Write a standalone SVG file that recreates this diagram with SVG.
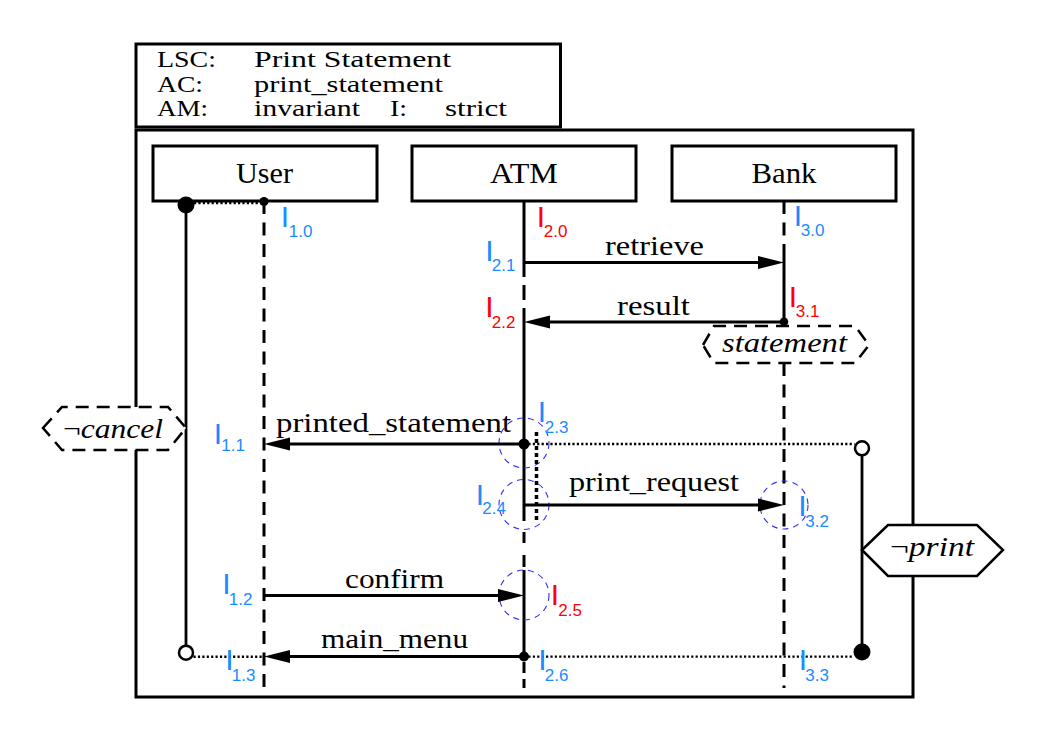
<svg xmlns="http://www.w3.org/2000/svg" width="1045" height="745" viewBox="0 0 1045 745">
<style>
.frame{fill:none;stroke:#000;stroke-width:3}
.box{fill:#fff;stroke:#000;stroke-width:3}
.life{fill:none;stroke:#000;stroke-width:3}
.dsh{stroke-dasharray:13 8.5}
.msg{fill:none;stroke:#000;stroke-width:3;marker-end:url(#arr)}
.dot{fill:none;stroke:#000;stroke-width:2.4;stroke-dasharray:2.2 2.2}
.vdot{fill:none;stroke:#000;stroke-width:3.5;stroke-dasharray:4 3}
.cor{fill:none;stroke:#3030ff;stroke-width:1.1;stroke-dasharray:6 5}
.hexd{fill:#fff;stroke:#000;stroke-width:2.5;stroke-dasharray:13 8}
.hex{fill:#fff;stroke:#000;stroke-width:2.5}
.cond{fill:none;stroke:#000;stroke-width:2.8}
.t{font-family:"Liberation Serif","Times New Roman",serif;fill:#000}
.hd{font-size:23px}
.nm{font-size:30px}
.ml{font-size:27px}
.it{font-size:27px;font-style:italic}
.up{font-style:normal}
.lb{font-family:"Liberation Sans",Arial,sans-serif;font-size:30px}
.sb{font-size:17px}
.blue{fill:#1a8cff}
.red{fill:#ff0000}
</style>
<defs>
<marker id="arr" markerUnits="userSpaceOnUse" markerWidth="26" markerHeight="13" refX="16" refY="6.5" orient="auto" overflow="visible">
<path d="M0,0 L26,6.5 L0,13 z" fill="#000"/>
</marker>
</defs>
<rect width="1045" height="745" fill="#fff"/>

<g id="header">
<rect class="frame" x="136" y="44" width="424.5" height="83"/>
<text class="t hd" x="157" y="67" textLength="59" lengthAdjust="spacingAndGlyphs">LSC:</text>
<text class="t hd" x="254" y="67" textLength="197" lengthAdjust="spacingAndGlyphs">Print Statement</text>
<text class="t hd" x="157" y="92" textLength="46" lengthAdjust="spacingAndGlyphs">AC:</text>
<text class="t hd" x="254" y="92" textLength="189" lengthAdjust="spacingAndGlyphs">print_statement</text>
<text class="t hd" x="157" y="116" textLength="51" lengthAdjust="spacingAndGlyphs">AM:</text>
<text class="t hd" x="254" y="116" textLength="106" lengthAdjust="spacingAndGlyphs">invariant</text>
<text class="t hd" x="390" y="116" textLength="17" lengthAdjust="spacingAndGlyphs">I:</text>
<text class="t hd" x="445" y="116" textLength="62" lengthAdjust="spacingAndGlyphs">strict</text>
</g>

<g id="frame">
<rect class="frame" x="136" y="130" width="777" height="567"/>
</g>

<g id="inst-user">
<rect class="box" x="153" y="146" width="224" height="55"/>
<text class="t nm" x="236" y="183" textLength="57" lengthAdjust="spacingAndGlyphs">User</text>
<path class="life dsh" d="M264,201 V688"/>
</g>
<g id="inst-atm">
<rect class="box" x="412" y="146" width="224" height="55"/>
<text class="t nm" x="490" y="183" textLength="68" lengthAdjust="spacingAndGlyphs">ATM</text>
<path class="life" d="M524,201 V277 M524,285 V300 M524,308 V521 M524,532 V543 M524,555 V567 M524,570 V657 M524,662 V673 M524,679 V688"/>
</g>
<g id="inst-bank">
<rect class="box" x="672" y="146" width="224" height="55"/>
<text class="t nm" x="751.5" y="183" textLength="65" lengthAdjust="spacingAndGlyphs">Bank</text>
<path class="life dsh" d="M784,201 V244"/>
<path class="life" d="M784,244 V322"/>
<path class="life dsh" d="M784,363 V688"/>
</g>

<g id="coregions">
<circle class="cor" cx="524" cy="443" r="25"/>
<circle class="cor" cx="524" cy="504.5" r="25"/>
<circle class="cor" cx="784" cy="505" r="24"/>
<circle class="cor" cx="524" cy="595" r="25"/>
<path class="vdot" d="M536.5,432 V521"/>
</g>

<g id="subchart-cancel">
<path class="dot" d="M194,203 H261"/>
<path class="cond" d="M186,205 V645.5"/>
<path class="dot" d="M193.5,656.7 H264"/>
<circle cx="186" cy="205" r="8.5" fill="#000"/>
<circle cx="264" cy="201.5" r="4.5" fill="#000"/>
<circle cx="186" cy="652.7" r="7" fill="#fff" stroke="#000" stroke-width="2.5"/>
<polygon class="hexd" points="43,428 62,407 168,407 186,428 168,450 62,450"/>
<text class="t it" x="63" y="438" textLength="100" lengthAdjust="spacingAndGlyphs"><tspan class="up">¬</tspan>cancel</text>
</g>

<g id="subchart-print">
<path class="dot" d="M524,444 H854.5"/>
<path class="dot" d="M524,656.6 H854"/>
<path class="cond" d="M862,455 V652"/>
<circle cx="862" cy="448.3" r="7" fill="#fff" stroke="#000" stroke-width="2.5"/>
<circle cx="862" cy="652" r="8.5" fill="#000"/>
<polygon class="hex" points="862,550 888,525 977,525 1003,550 977,576 888,576"/>
<text class="t it" x="890" y="556" textLength="84" lengthAdjust="spacingAndGlyphs"><tspan class="up">¬</tspan>print</text>
</g>

<g id="cond-statement">
<polygon class="hexd" points="703,345 714,326 855,326 869,345 855,363 714,363"/>
<text class="t it" x="722" y="352" textLength="125" lengthAdjust="spacingAndGlyphs">statement</text>
</g>

<g id="connectors">
<path class="msg" d="M525,262.5 H774"/>
<path class="msg" d="M783,322 H534"/>
<path class="msg" d="M523,444 H274"/>
<path class="msg" d="M525,505 H774"/>
<path class="msg" d="M265,595.5 H514"/>
<path class="msg" d="M523,656.6 H274"/>
<circle cx="784" cy="321.7" r="4.3" fill="#000"/>
<circle cx="524" cy="444" r="5.5" fill="#000"/>
<circle cx="524" cy="656.5" r="5" fill="#000"/>
<text class="t ml" x="605" y="255" textLength="99" lengthAdjust="spacingAndGlyphs">retrieve</text>
<text class="t ml" x="617" y="315" textLength="73" lengthAdjust="spacingAndGlyphs">result</text>
<text class="t ml" x="276" y="432" textLength="235" lengthAdjust="spacingAndGlyphs">printed_statement</text>
<text class="t ml" x="569" y="491" textLength="170" lengthAdjust="spacingAndGlyphs">print_request</text>
<text class="t ml" x="345" y="588" textLength="99" lengthAdjust="spacingAndGlyphs">confirm</text>
<text class="t ml" x="321" y="648" textLength="147" lengthAdjust="spacingAndGlyphs">main_menu</text>
</g>

<g id="locations">
<text class="lb blue" x="280.7" y="227">I<tspan class="sb" x="288.8" y="236.5">1.0</tspan></text>
<text class="lb red" x="536.7" y="227">I<tspan class="sb" x="543.8" y="236.5">2.0</tspan></text>
<text class="lb blue" x="793.7" y="226">I<tspan class="sb" x="800.8" y="236">3.0</tspan></text>
<text class="lb blue" x="485.2" y="260.5">I<tspan class="sb" x="491.8" y="271">2.1</tspan></text>
<text class="lb red" x="485.2" y="317">I<tspan class="sb" x="491.8" y="328">2.2</tspan></text>
<text class="lb red" x="788.7" y="306.5">I<tspan class="sb" x="795.8" y="316.5">3.1</tspan></text>
<text class="lb blue" x="537.7" y="422">I<tspan class="sb" x="544.8" y="433">2.3</tspan></text>
<text class="lb blue" x="213.7" y="443.5">I<tspan class="sb" x="221.3" y="451">1.1</tspan></text>
<text class="lb blue" x="475.7" y="505">I<tspan class="sb" x="482.3" y="514">2.4</tspan></text>
<text class="lb blue" x="798.2" y="516">I<tspan class="sb" x="805.3" y="527">3.2</tspan></text>
<text class="lb blue" x="222.2" y="593.5">I<tspan class="sb" x="228.8" y="604.5">1.2</tspan></text>
<text class="lb red" x="550.7" y="605">I<tspan class="sb" x="558.3" y="615.5">2.5</tspan></text>
<text class="lb blue" x="225.2" y="670">I<tspan class="sb" x="231.8" y="681">1.3</tspan></text>
<text class="lb blue" x="538.2" y="670">I<tspan class="sb" x="544.8" y="681">2.6</tspan></text>
<text class="lb blue" x="798.7" y="670">I<tspan class="sb" x="805.3" y="681">3.3</tspan></text>
</g>
</svg>
